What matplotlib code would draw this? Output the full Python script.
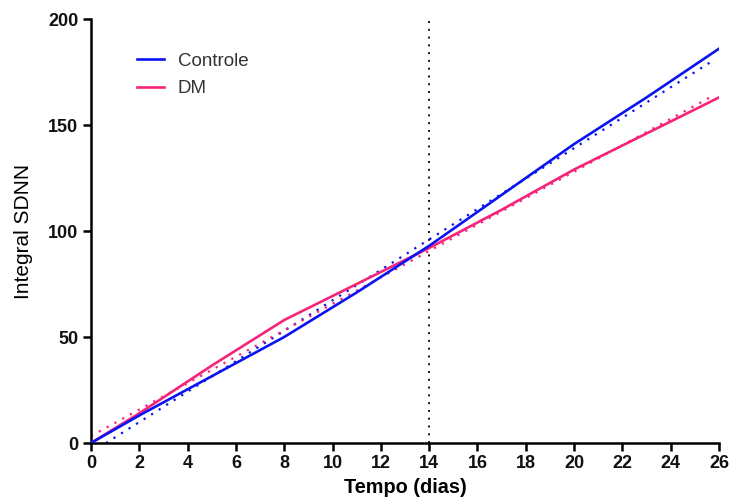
import matplotlib
matplotlib.use("Agg")
import matplotlib.pyplot as plt

plt.rcParams['font.family'] = ['Liberation Sans', 'DejaVu Sans']

days = [0, 2, 5, 8, 11, 14, 17, 20, 23, 26]
controle = [0, 13, 31.5, 50, 71, 93, 117, 141, 163, 186]
dm = [0, 14, 36.5, 58, 75, 92, 110, 129, 146, 163]

fit_x = [0, 25.7]
controle_fit = [-4.5, 180]
dm_fit = [3.3, 163.5]

vline_x = 14
xticks = list(range(0, 27, 2))
yticks = [0, 50, 100, 150, 200]

blue = '#0A14F0'
pink = '#F5237A'

fig = plt.figure(figsize=(7.29, 5.0), dpi=100)
ax = fig.add_axes([0.1248, 0.114, 0.8615, 0.848])

ax.plot(days, controle, color=blue, lw=1.9, label='Controle', zorder=4)
ax.plot(days, dm, color=pink, lw=1.9, label='DM', zorder=3)
ax.plot(fit_x, controle_fit, color=blue, lw=1.6, ls=(0, (1, 3)), zorder=2)
ax.plot(fit_x, dm_fit, color=pink, lw=1.6, ls=(0, (1, 3)), zorder=2)
ax.axvline(vline_x, color='#111111', lw=1.4, ls=(0, (1, 3)), zorder=1)

ax.set_xlim(0, 26)
ax.set_ylim(0, 200)
ax.set_xticks(xticks)
ax.set_yticks(yticks)
for s in ['top', 'right']:
    ax.spines[s].set_visible(False)
for s in ['left', 'bottom']:
    ax.spines[s].set_linewidth(1.8)
ax.tick_params(axis='both', which='major', length=6, width=1.8, direction='out',
               labelsize=13, pad=3)
for lab in ax.get_xticklabels() + ax.get_yticklabels():
    lab.set_fontweight('bold')
    lab.set_color('#111111')

ax.set_xlabel('Tempo (dias)', fontsize=14.3, fontweight='bold', labelpad=4)
ax.set_ylabel('Integral SDNN', fontsize=15, labelpad=11)

leg = ax.legend(loc='upper left', bbox_to_anchor=(0.047, 0.96), frameon=False,
                fontsize=13.5, handlelength=1.4, handletextpad=0.75, labelspacing=0.55)
for t in leg.get_texts():
    t.set_color('#333333')

fig.savefig('out.png', dpi=100)
